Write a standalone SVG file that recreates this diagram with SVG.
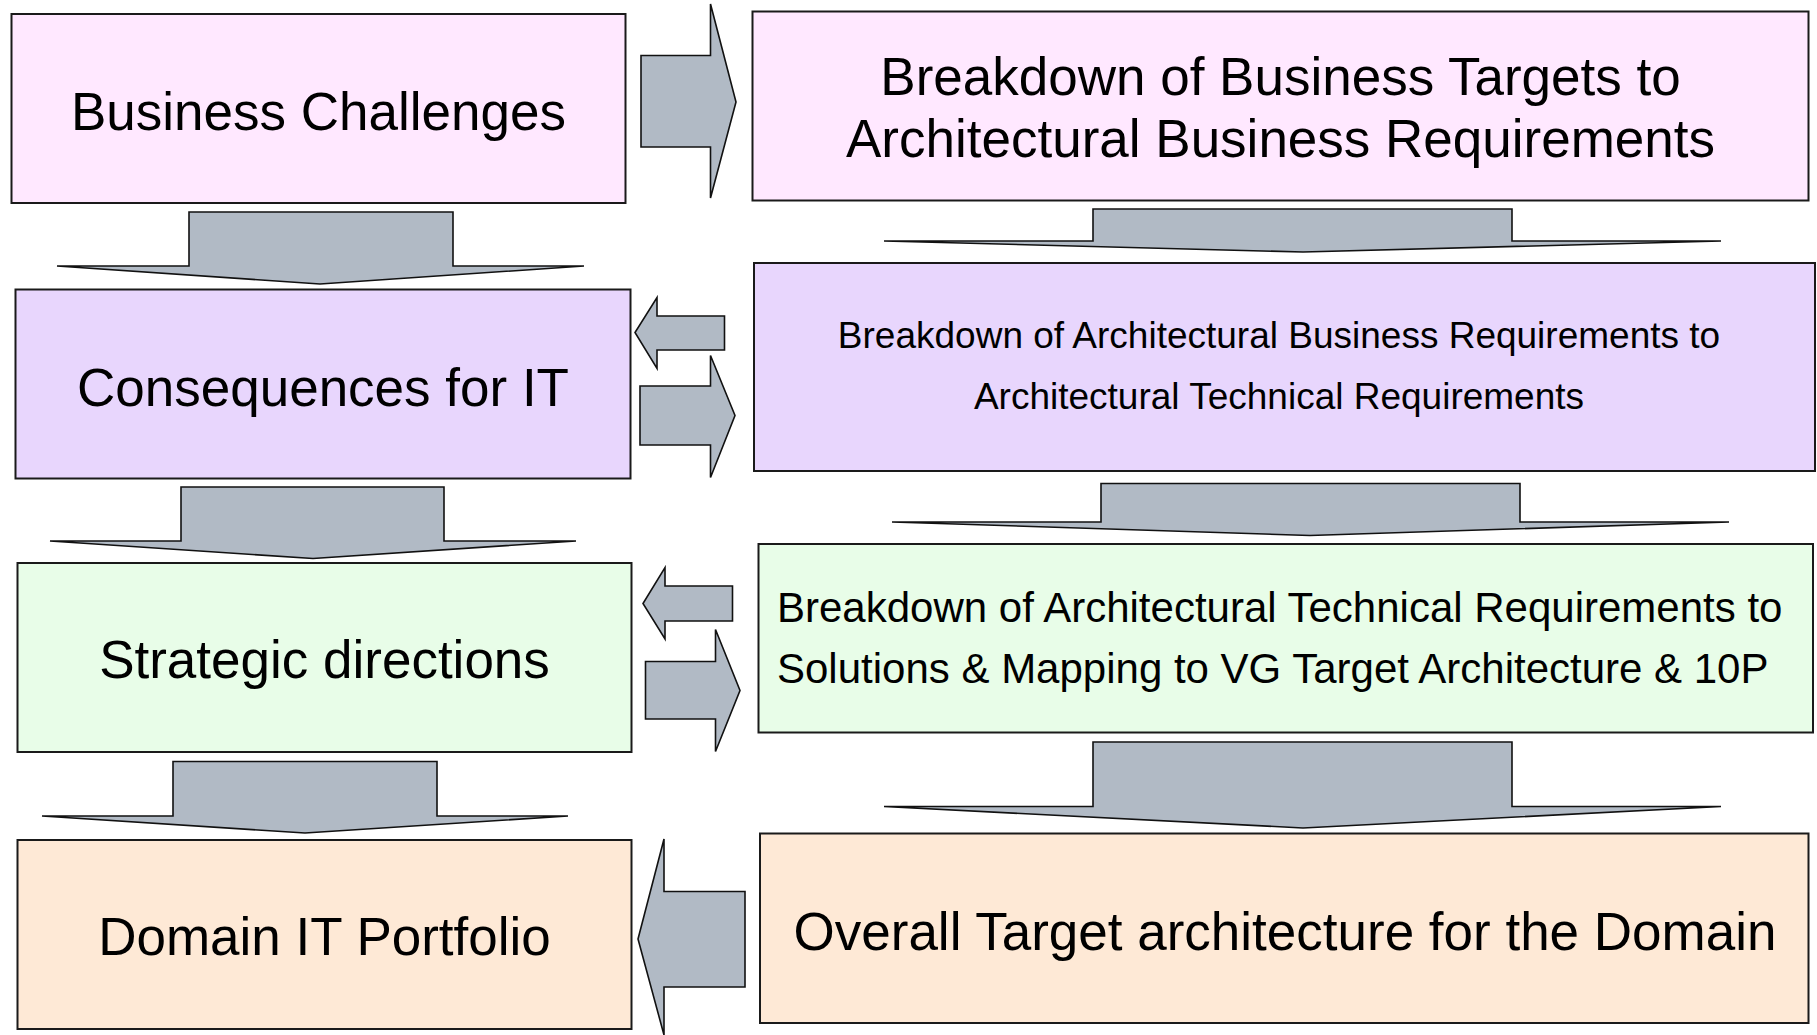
<svg xmlns="http://www.w3.org/2000/svg" width="1817" height="1035" viewBox="0 0 1817 1035">
<style>
.box{stroke:#1a1a1a;stroke-width:2}
.pink{fill:#FFE8FF}
.lav{fill:#E8D6FD}
.green{fill:#E8FDE8}
.peach{fill:#FEE9D6}
.arr{fill:#B1BAC5;stroke:#111;stroke-width:1.6;stroke-linejoin:miter}
text{font-family:"Liberation Sans",Arial,Helvetica,sans-serif;fill:#000}
.big{font-size:53px;text-anchor:middle}
.mid{font-size:42px}
.small{font-size:37px;text-anchor:middle}
</style>
<rect width="1817" height="1035" fill="#fff"/>
<g id="connectors">
<polygon class="arr" points="189,212 453,212 453,266 584,266 320,284 57,266 189,266"/>
<polygon class="arr" points="181,487 444,487 444,541 576,541 313,558.5 50,541 181,541"/>
<polygon class="arr" points="173,761.5 437,761.5 437,816 568,816 305,833 42,816 173,816"/>
<polygon class="arr" points="1093,209 1512,209 1512,241 1721,241 1303,252 884,241 1093,241"/>
<polygon class="arr" points="1101,483.5 1520,483.5 1520,522 1729,522 1310,535.5 892,522 1101,522"/>
<polygon class="arr" points="1093,742 1512,742 1512,806.5 1721,806.5 1303,828 884,806.5 1093,806.5"/>
<polygon class="arr" points="641,55.5 710.5,55.5 710.5,4 736,102 710.5,198 710.5,147 641,147"/>
<polygon class="arr" points="724.5,316 657,316 657,297.5 635,332.5 657,368.5 657,350 724.5,350"/>
<polygon class="arr" points="640,386 710.5,386 710.5,355.5 735,415.5 710.5,477.5 710.5,445 640,445"/>
<polygon class="arr" points="732.5,586 665,586 665,567.5 643,603.5 665,639 665,621 732.5,621"/>
<polygon class="arr" points="645.5,661.5 715.5,661.5 715.5,629.5 740,690.5 715.5,751.5 715.5,719 645.5,719"/>
<polygon class="arr" points="745,891.5 664,891.5 664,839 638,939 664,1035 664,987 745,987"/>
</g>
<g id="n1"><rect class="box pink" x="11.5" y="14" width="614" height="189"/><text class="big" x="318.5" y="129.5">Business Challenges</text></g>
<g id="n2"><rect class="box pink" x="752.5" y="11.5" width="1056" height="189"/><text class="big" x="1280.5" y="95">Breakdown of Business Targets to</text><text class="big" x="1280.5" y="157">Architectural Business Requirements</text></g>
<g id="n3"><rect class="box lav" x="15.5" y="289.5" width="615" height="189"/><text class="big" x="323" y="405.5">Consequences for IT</text></g>
<g id="n4"><rect class="box lav" x="754" y="263" width="1061" height="208"/><text class="small" x="1279" y="348">Breakdown of Architectural Business Requirements to</text><text class="small" x="1279" y="408.5">Architectural Technical Requirements</text></g>
<g id="n5"><rect class="box green" x="17.5" y="563" width="614" height="189"/><text class="big" x="324.5" y="678">Strategic directions</text></g>
<g id="n6"><rect class="box green" x="758.5" y="544" width="1054.5" height="188.5"/><text class="mid" x="777" y="622">Breakdown of Architectural Technical Requirements to</text><text class="mid" x="777" y="683">Solutions &amp; Mapping to VG Target Architecture &amp; 10P</text></g>
<g id="n7"><rect class="box peach" x="17.5" y="840" width="614" height="189"/><text class="big" x="324.5" y="955">Domain IT Portfolio</text></g>
<g id="n8"><rect class="box peach" x="760" y="833.5" width="1048.5" height="189.5"/><text class="big" x="1285" y="950">Overall Target architecture for the Domain</text></g>
</svg>
